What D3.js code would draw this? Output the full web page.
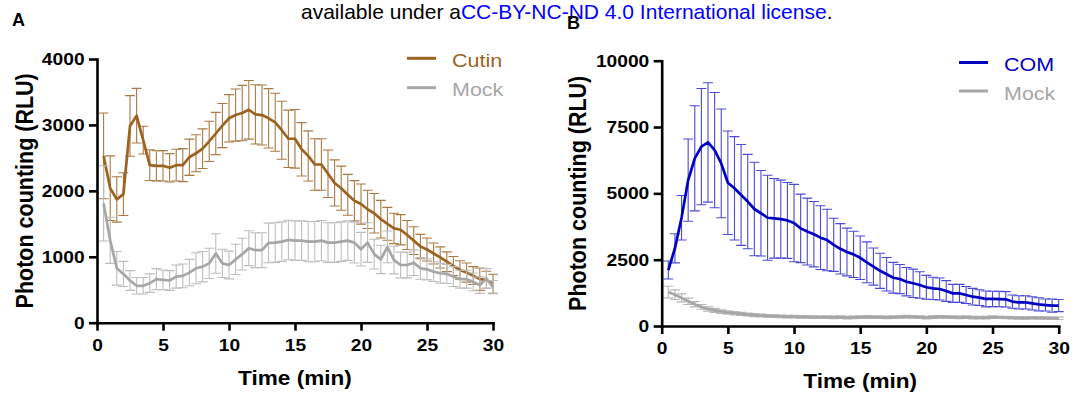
<!DOCTYPE html>
<html>
<head>
<meta charset="utf-8">
<script src="https://cdn.jsdelivr.net/npm/d3@7"></script>
<style>
  body { margin: 0; background: #fff; }
  svg { display: block; font-family: "Liberation Sans", Arial, sans-serif; }
</style>
</head>
<body>
<div id="chart"></div>
<script>
// time points (min)
var time = [0.5, 1, 1.5, 2, 2.5, 3, 3.5, 4, 4.5, 5, 5.5, 6, 6.5, 7, 7.5, 8, 8.5, 9, 9.5, 10,
  10.5, 11, 11.5, 12, 12.5, 13, 13.5, 14, 14.5, 15, 15.5, 16, 16.5, 17, 17.5, 18, 18.5, 19, 19.5, 20,
  20.5, 21, 21.5, 22, 22.5, 23, 23.5, 24, 24.5, 25, 25.5, 26, 26.5, 27, 27.5, 28, 28.5, 29, 29.5, 30];

// panel A
var cutinMean = [2530, 2040, 1870, 1950, 2985, 3140, 2770, 2390, 2380, 2380,
  2350, 2390, 2390, 2510, 2570, 2640, 2750, 2870, 2990, 3100,
  3150, 3180, 3230, 3160, 3150, 3100, 3040, 2920, 2790, 2790,
  2630, 2530, 2400, 2400, 2260, 2120, 2040, 1940, 1850, 1800,
  1720, 1660, 1570, 1500, 1430, 1410, 1330, 1245, 1155, 1110,
  1050, 990, 925, 860, 800, 760, 715, 660, 650, 590];
var cutinErr = [650, 490, 345, 325, 460, 415, 210, 233, 228, 230,
  215, 240, 250, 275, 280, 300, 305, 320, 335, 360,
  395, 420, 445, 450, 455, 450, 440, 440, 435, 445,
  405, 380, 390, 390, 360, 350, 335, 310, 305, 305,
  290, 300, 285, 250, 230, 230, 220, 210, 185, 175,
  160, 160, 150, 145, 140, 145, 135, 170, 130, 145];
var mockAMean = [1810, 1250, 825, 740, 640, 560, 560, 600, 660, 650,
  640, 700, 710, 760, 825, 850, 900, 1050, 900, 875,
  960, 1040, 1130, 1100, 1100, 1210, 1215, 1230, 1255, 1245,
  1245, 1230, 1230, 1245, 1215, 1215, 1230, 1245, 1215, 1115,
  1215, 1040, 960, 1150, 950, 875, 875, 910, 825, 810,
  775, 750, 740, 700, 660, 660, 620, 570, 670, 540];
var mockAErr = [570, 350, 255, 190, 150, 125, 125, 140, 160, 150,
  150, 175, 180, 200, 235, 230, 230, 300, 215, 210,
  230, 240, 265, 265, 265, 300, 300, 300, 300, 300,
  300, 305, 305, 305, 300, 300, 300, 300, 310, 255,
  300, 225, 215, 240, 210, 195, 195, 195, 165, 160,
  150, 150, 145, 150, 135, 135, 135, 125, 150, 100];

// panel B
var comMean = [2110, 2930, 4080, 5500, 6320, 6760, 6920, 6630, 6130, 5400,
  5190, 4940, 4690, 4410, 4250, 4080, 4060, 4030, 3980, 3880,
  3680, 3560, 3460, 3330, 3240, 3060, 2910, 2790, 2700, 2570,
  2400, 2240, 2080, 1950, 1820, 1770, 1670, 1610, 1545, 1460,
  1420, 1395, 1320, 1230, 1230, 1170, 1105, 1070, 1020, 1020,
  1015, 1005, 920, 890, 890, 855, 815, 790, 770, 770];
var comErr = [340, 550, 840, 1550, 1980, 2190, 2250, 2170, 2050, 1950,
  1950, 1900, 1780, 1760, 1610, 1600, 1500, 1470, 1430, 1460,
  1290, 1260, 1230, 1200, 1160, 1000, 950, 900, 870, 820,
  770, 700, 660, 630, 580, 550, 535, 535, 500, 450,
  420, 415, 390, 340, 340, 320, 315, 295, 300, 290,
  290, 290, 250, 250, 250, 250, 250, 225, 250, 230];
var mockBMean = [1280, 1180, 1060, 930, 820, 720, 640, 590, 545, 510,
  480, 455, 430, 410, 395, 385, 375, 365, 355, 350,
  345, 340, 335, 330, 330, 325, 330, 320, 325, 335,
  340, 335, 330, 325, 330, 340, 350, 340, 330, 320,
  335, 345, 340, 330, 325, 330, 320, 315, 320, 330,
  325, 320, 310, 305, 300, 310, 305, 300, 295, 290];
var mockBErr = [220, 180, 150, 120, 100, 90, 80, 75, 70, 65,
  60, 60, 55, 55, 55, 50, 50, 50, 50, 50,
  50, 50, 50, 50, 50, 50, 50, 50, 50, 50,
  50, 50, 50, 50, 50, 50, 50, 50, 50, 50,
  50, 50, 50, 50, 50, 50, 50, 50, 50, 50,
  45, 45, 45, 45, 45, 45, 45, 45, 45, 45];

var xTicks = [0, 5, 10, 15, 20, 25, 30];
var yTicksA = [0, 1000, 2000, 3000, 4000];
var yTicksB = [0, 2500, 5000, 7500, 10000];

var stretch = 1.13;

var svg = d3.select('#chart')
  .append('svg')
  .attr('width', 1074)
  .attr('height', 398);

svg.append('rect').attr('width', 1074).attr('height', 398).attr('fill', '#fff');

// header line from the preprint
var header = svg.append('text')
  .attr('x', 301)
  .attr('y', 19)
  .attr('font-size', '21px')
  .attr('fill', '#000');
header.append('tspan').text('available under a');
header.append('tspan').attr('fill', '#0000ff').text('CC-BY-NC-ND 4.0 International license');
header.append('tspan').text('.');

function drawPanel(p) {
  var x = d3.scaleLinear().domain([0, 30]).range([p.left, p.right]);
  var y = d3.scaleLinear().domain([0, p.yMax]).range([p.bottom, p.top]);
  var g = svg.append('g');

  // series: error bars then line
  p.series.forEach(function(s) {
    var pts = time.map(function(t, i) { return {t: t, m: s.mean[i], e: s.err[i]}; });
    g.append('g')
      .attr('stroke', s.barColor)
      .attr('stroke-width', 1.1)
      .attr('fill', 'none')
      .selectAll('path')
      .data(pts)
      .enter()
      .append('path')
      .attr('d', function(d) {
        var xx = x(d.t), y1 = y(d.m + d.e), y0 = y(Math.max(0, d.m - d.e));
        return 'M' + xx + ',' + y0 + 'V' + y1 +
          'M' + (xx - 5) + ',' + y1 + 'H' + (xx + 5) +
          'M' + (xx - 5) + ',' + y0 + 'H' + (xx + 5);
      });
    g.append('path')
      .datum(pts)
      .attr('d', d3.line().x(function(d) { return x(d.t); }).y(function(d) { return y(d.m); }))
      .attr('fill', 'none')
      .attr('stroke', s.color)
      .attr('stroke-width', 2.7)
      .attr('stroke-linejoin', 'round');
  });

  // axes
  var yAxis = g.append('g')
    .attr('transform', 'translate(' + p.left + ',0)')
    .call(d3.axisLeft(y).tickValues(p.yTicks).tickSize(8).tickSizeOuter(0).tickPadding(3).tickFormat(d3.format('d')));
  var xAxis = g.append('g')
    .attr('transform', 'translate(0,' + p.bottom + ')')
    .call(d3.axisBottom(x).tickValues(xTicks).tickSize(8).tickSizeOuter(0).tickPadding(8));

  [yAxis, xAxis].forEach(function(a) {
    a.select('.domain').attr('stroke', '#000').attr('stroke-width', 2.6).attr('stroke-linecap', 'square');
    a.selectAll('.tick line').attr('stroke', '#000').attr('stroke-width', 2.6);
    a.selectAll('.tick text')
      .attr('fill', '#000')
      .attr('font-size', '17px')
      .attr('font-weight', 'bold')
      .attr('font-family', '"Liberation Sans", Arial, sans-serif')
      .attr('transform', 'scale(' + stretch + ',1)');
  });

  // axis titles
  g.append('text')
    .attr('transform', 'translate(' + ((p.left + p.right) / 2) + ',' + p.xTitleY + ') scale(' + stretch + ',1)')
    .attr('text-anchor', 'middle')
    .attr('font-size', '20px')
    .attr('font-weight', 'bold')
    .text('Time (min)');
  g.append('text')
    .attr('transform', 'translate(' + p.yTitleX + ',' + ((p.top + p.bottom) / 2) + ') rotate(-90) scale(1,' + stretch + ')')
    .attr('text-anchor', 'middle')
    .attr('font-size', '21.5px')
    .attr('font-weight', 'bold')
    .text('Photon counting (RLU)');

  // panel letter
  g.append('text')
    .attr('x', p.letterX)
    .attr('y', p.letterY)
    .attr('font-size', '18px')
    .attr('font-weight', 'bold')
    .text(p.letter);

  // legend
  p.series.forEach(function(s, i) {
    var ly = p.legendY + i * p.legendGap;
    g.append('line')
      .attr('x1', p.legendX).attr('x2', p.legendX + 29)
      .attr('y1', ly).attr('y2', ly)
      .attr('stroke', s.color)
      .attr('stroke-width', 3);
    g.append('text')
      .attr('transform', 'translate(' + (p.legendX + 45) + ',' + (ly + 8.5) + ') scale(' + stretch + ',1)')
      .attr('font-size', '19px')
      .attr('fill', s.color)
      .text(s.name);
  });
}

drawPanel({
  left: 97, right: 493, top: 59, bottom: 322.7, yMax: 4000, yTicks: yTicksA,
  xTitleY: 385, yTitleX: 32.5, letter: 'A', letterX: 12, letterY: 26,
  legendX: 407, legendY: 58.3, legendGap: 29.4,
  series: [
    {name: 'Cutin', mean: cutinMean, err: cutinErr, color: '#9b6220', barColor: '#a97a45'},
    {name: 'Mock', mean: mockAMean, err: mockAErr, color: '#a6a6a6', barColor: '#bdbdbd'}
  ]
});

drawPanel({
  left: 661.7, right: 1058.7, top: 60.7, bottom: 326, yMax: 10000, yTicks: yTicksB,
  xTitleY: 388, yTitleX: 586, letter: 'B', letterX: 567, letterY: 29,
  legendX: 959, legendY: 62.5, legendGap: 28.5,
  series: [
    {name: 'COM', mean: comMean, err: comErr, color: '#0000c0', barColor: '#4a4ad8'},
    {name: 'Mock', mean: mockBMean, err: mockBErr, color: '#a6a6a6', barColor: '#b8b8b8'}
  ]
});
</script>
</body>
</html>
